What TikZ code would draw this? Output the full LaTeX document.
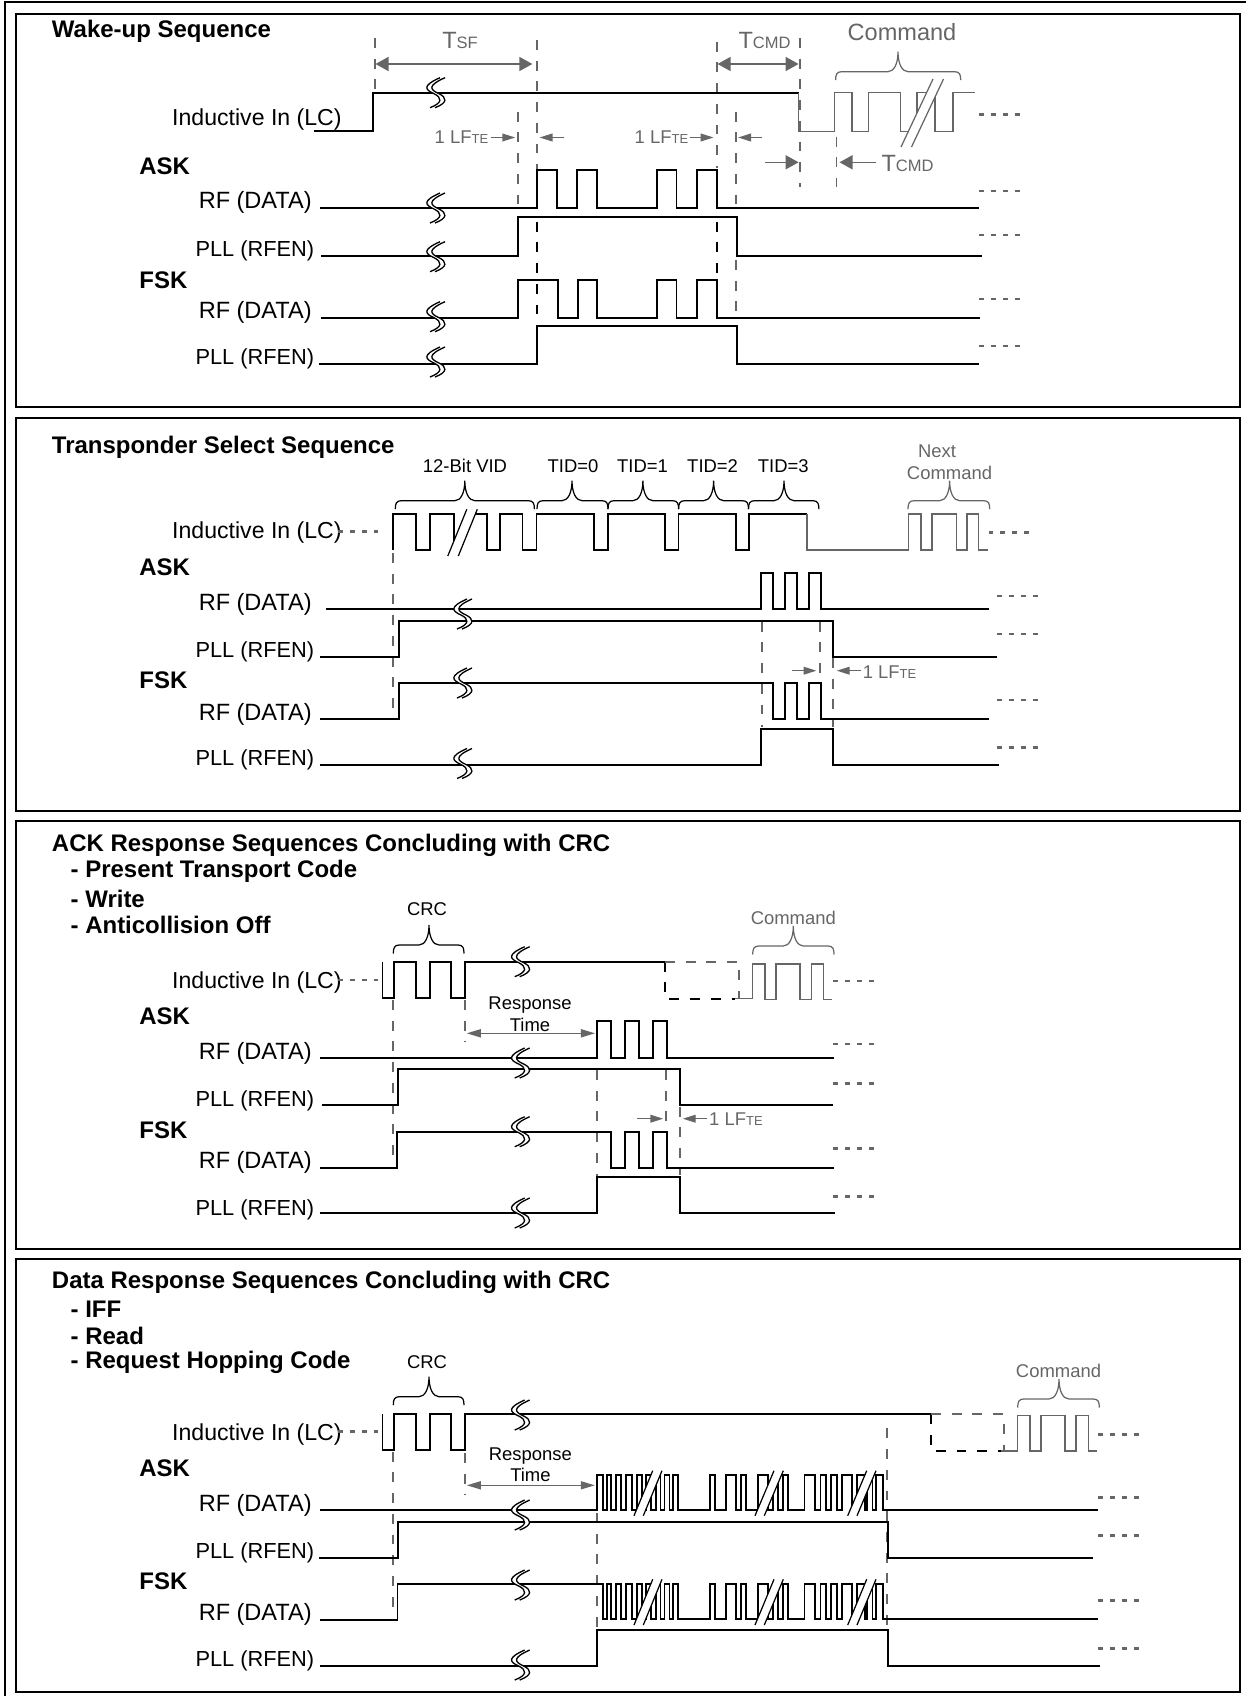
\documentclass[tikz,border=0pt]{standalone}
\usepackage{fontspec}
\usetikzlibrary{arrows.meta}
\setmainfont{Liberation Sans}

\definecolor{dimgrey}{HTML}{666666}

\newcommand{\bigfont}{\fontsize{13.4pt}{15pt}\selectfont}
\newcommand{\boldfont}{\fontsize{13.65pt}{15pt}\selectfont\bfseries}
\newcommand{\pllfont}{\fontsize{12.4pt}{15pt}\selectfont}
\newcommand{\smallfont}{\fontsize{10.5pt}{12pt}\selectfont}
\newcommand{\subbig}[1]{{\fontsize{9.4pt}{10pt}\selectfont #1}}
\newcommand{\subsmall}[1]{{\fontsize{7.4pt}{8pt}\selectfont #1}}

\tikzset{
    panelbox/.style={draw, line width=1.1pt},
    wave/.style={line width=1pt, line join=miter},
    greywave/.style={line width=0.85pt, dimgrey},
    guide/.style={line width=0.95pt, dimgrey, dash pattern=on 5.6pt off 6.2pt},
    guidek/.style={line width=1pt, black, dash pattern=on 5.6pt off 6.2pt},
    dotline/.style={line width=1.5pt, dimgrey, dash pattern=on 2.8pt off 4pt},
    dimboth/.style={line width=0.8pt, dimgrey, {Triangle[length=7.4pt,width=8pt]}-{Triangle[length=7.4pt,width=8pt]}},
    dimone/.style={line width=0.8pt, dimgrey, -{Triangle[length=7.4pt,width=8pt]}},
    smallone/.style={line width=0.8pt, dimgrey, -{Triangle[length=7.4pt,width=4.4pt]}},
    smallboth/.style={line width=0.8pt, dimgrey, {Triangle[length=8pt,width=4.6pt]}-{Triangle[length=8pt,width=4.6pt]}},
    headtxt/.style={anchor=west, inner sep=0pt, yshift=-1pt, font=\boldfont},
    sigtxt/.style={anchor=east, inner sep=0pt, yshift=-1.5pt, font=\bigfont},
    lctxt/.style={anchor=east, inner sep=0pt, yshift=-1.5pt, font=\fontsize{13.15pt}{15pt}\selectfont},
    plltxt/.style={anchor=east, inner sep=0pt, yshift=-1.5pt, font=\pllfont},
    modetxt/.style={anchor=west, inner sep=0pt, yshift=-0.5pt, font=\boldfont},
    smalltxt/.style={inner sep=0pt, font=\smallfont},
    greytxt/.style={inner sep=0pt, font=\bigfont, text=dimgrey},
    greysmall/.style={inner sep=0pt, font=\smallfont, text=dimgrey}
}

% Break mark across a line
\newcommand{\breakmark}[2]{%
    \begin{scope}[shift={(#1,#2)}]
        \fill[white] (3,-15) .. controls (-15,-7) and (-12,-3) .. (-3,1) .. controls (5,5) and (6,10) .. (-7,15)
            -- (-2,15) .. controls (11,10) and (10,5) .. (2,1) .. controls (-7,-3) and (-10,-7) .. (8,-15) -- cycle;
        \draw[line width=0.75pt] (3,-15) .. controls (-15,-7) and (-12,-3) .. (-3,1) .. controls (5,5) and (6,10) .. (-7,15);
        \draw[line width=0.75pt] (8,-15) .. controls (-10,-7) and (-7,-3) .. (2,1) .. controls (10,5) and (11,10) .. (-2,15);
    \end{scope}}

% Slanted cut: colour, bottom x, bottom y, top x, top y, gap
\newcommand{\slashmark}[6]{%
    \fill[white] (#2,#3) -- (#4,#5) -- (#4+#6,#5) -- (#2+#6,#3) -- cycle;
    \draw[line width=0.7pt, #1] (#2,#3) -- (#4,#5) (#2+#6,#3) -- (#4+#6,#5);}

% Brace: colour, left x, tip x, right x, y
\newcommand{\wavebrace}[5]{%
    \draw[line width=0.7pt, #1] (#2,#5+8.5) .. controls (#2,#5+3) and (#2+1,#5) .. (#2+6,#5)
        -- (#3-10,#5) .. controls (#3-4,#5) and (#3,#5-8) .. (#3,#5-20)
        .. controls (#3,#5-8) and (#3+4,#5) .. (#3+10,#5)
        -- (#4-6,#5) .. controls (#4-1,#5) and (#4,#5+3) .. (#4,#5+8.5);}

\newcommand{\dotrun}[2]{\draw[dotline] (#1,#2) -- ++(41,0);}

% Edges of the long data burst
\newcommand{\dataedges}{606.7/611.3,616.3/621.3,626.3/631.7,636.7/641.7,646/651,656/660.5,664.5/669.5,673/678.3,710/715.3,725.7/736,741/746,758/768,773/778,783/788,804.5/815,820.5/826,830.7/836.7,841.7/852,857/865,867/872.5,876/882.7}

\begin{document}
\begin{tikzpicture}[x=0.02cm, y=-0.02cm]
        \useasboundingbox (0,0) rectangle (1246,1696);

        % Frames
        \draw[line width=1.1pt] (5,1696) -- (5,2) -- (1246,2);
        \draw[panelbox] (16,14) rectangle (1240,406.7);
        \draw[panelbox] (16,418) rectangle (1240,810.7);
        \draw[panelbox] (16,821) rectangle (1240,1249);
        \draw[panelbox] (16,1259) rectangle (1240,1691.7);

        % Wake-up: nodes
        \node[headtxt] (head1) at (51.6,30) {Wake-up Sequence};
        \node[lctxt] (lc1) at (342,116.7) {Inductive In (LC)};
        \node[modetxt] (ask1) at (139,165.7) {ASK};
        \node[sigtxt] (rfa1) at (312,200) {RF (DATA)};
        \node[plltxt] (plla1) at (314.5,248.3) {PLL (RFEN)};
        \node[modetxt] (fsk1) at (139,279) {FSK};
        \node[sigtxt] (rff1) at (312,309.3) {RF (DATA)};
        \node[plltxt] (pllf1) at (314.5,356.7) {PLL (RFEN)};
        \node[greytxt] (tsf) at (460,40) {T\subbig{SF}};
        \node[greytxt] (tcmda) at (764.5,40) {T\subbig{CMD}};
        \node[greytxt] (cmd1) at (902,32) {Command};
        \node[greytxt] (tcmdb) at (907.5,163) {T\subbig{CMD}};
        \node[greysmall] (lfa) at (461.5,137) {1 LF\subsmall{TE}};
        \node[greysmall] (lfb) at (661.5,137) {1 LF\subsmall{TE}};

        % Wake-up: guides
        \draw[guide] (374.7,38) -- (374.7,92);
        \draw[guide] (536.8,40) -- (536.8,170);
        \draw[guidek] (536.8,221.7) -- (536.8,325);
        \draw[guide] (517.7,111.7) -- (517.7,206.7);
        \draw[guide] (716.8,41.7) -- (716.8,168);
        \draw[guidek] (716.8,221.7) -- (716.8,276);
        \draw[guide] (736.2,111.7) -- (736.2,205);
        \draw[guide] (736.2,260) -- (736.2,311.7);
        \draw[guide] (799.8,38) -- (799.8,186.7);
        \draw[guide] (836.4,136.7) -- (836.4,186.7);

        % Wake-up: waves
        \draw[wave] (314,130.7) -- (372.7,130.7) -- (372.7,92.7) -- (798.6,92.7);
        \draw[greywave] (798.6,92.7) -- (798.6,131.7) -- (834.4,131.7) -- (834.4,92.7) -- (852.2,92.7) -- (852.2,131.7) -- (868.5,131.7) -- (868.5,92.7) -- (900.3,92.7) -- (900.3,131.7) -- (917,131.7) -- (917,92.7) -- (934.9,92.7) -- (934.9,131.7) -- (952.8,131.7) -- (952.8,92.7) -- (974.6,92.7);
        \draw[wave] (320,207.7) -- (536.8,207.7) -- (536.8,170) -- (557,170) -- (557,207.7) -- (576.9,207.7) -- (576.9,170) -- (596.7,170) -- (596.7,207.7) -- (656.8,207.7) -- (656.8,170) -- (676.6,170) -- (676.6,207.7) -- (696.9,207.7) -- (696.9,170) -- (717.2,170) -- (717.2,207.7) -- (978.6,207.7);
        \draw[wave] (321,255.7) -- (517.7,255.7) -- (517.7,216.7) -- (737,216.7) -- (737,255.7) -- (981.8,255.7);
        \draw[wave] (321,317.7) -- (517.7,317.7) -- (517.7,280) -- (558.2,280) -- (558.2,317.7) -- (578,317.7) -- (578,280) -- (596.7,280) -- (596.7,317.7) -- (656.8,317.7) -- (656.8,280) -- (676.6,280) -- (676.6,317.7) -- (696.9,317.7) -- (696.9,280) -- (717.2,280) -- (717.2,317.7) -- (979.8,317.7);
        \draw[wave] (319,363.7) -- (536.8,363.7) -- (536.8,325.7) -- (737,325.7) -- (737,363.7) -- (978.6,363.7);
        \breakmark{437}{92.7}
        \breakmark{437}{208}
        \breakmark{437}{256.7}
        \breakmark{437}{316.7}
        \breakmark{437}{362}
        \slashmark{dimgrey}{901}{147}{933}{79}{10.5}
        \wavebrace{dimgrey}{835.6}{898}{960.7}{71.7}
        \dotrun{979}{114.3}
        \dotrun{979}{191}
        \dotrun{979}{235}
        \dotrun{979}{299}
        \dotrun{979}{346}

        % Wake-up: arrows
        \coordinate (tsfl) at (375.5,64);
        \coordinate (tsfr) at (532.4,64);
        \coordinate (cmdl) at (717.6,64);
        \coordinate (cmdr) at (798.6,64);
        \coordinate (lfa1) at (490.7,137.5);
        \coordinate (lfa2) at (515.3,137.5);
        \coordinate (lfa3) at (564,137.5);
        \coordinate (lfa4) at (539.5,137.5);
        \coordinate (lfb1) at (689.7,137.5);
        \coordinate (lfb2) at (713.6,137.5);
        \coordinate (lfb3) at (762,137.5);
        \coordinate (lfb4) at (738,137.5);
        \coordinate (cmdb1) at (765,162.3);
        \coordinate (cmdb2) at (798.6,162.3);
        \coordinate (cmdb3) at (876,162.3);
        \coordinate (cmdb4) at (839.5,162.3);
        \draw[dimboth] (tsfl) -- (tsfr);
        \draw[dimboth] (cmdl) -- (cmdr);
        \draw[smallone] (lfa1) -- (lfa2);
        \draw[smallone] (lfa3) -- (lfa4);
        \draw[smallone] (lfb1) -- (lfb2);
        \draw[smallone] (lfb3) -- (lfb4);
        \draw[dimone] (cmdb1) -- (cmdb2);
        \draw[dimone] (cmdb3) -- (cmdb4);

        % Select: nodes
        \node[headtxt] (head2) at (51.6,446) {Transponder Select Sequence};
        \node[lctxt] (lc2) at (342,530) {Inductive In (LC)};
        \node[modetxt] (ask2) at (139,566.7) {ASK};
        \node[sigtxt] (rfa2) at (312,601.7) {RF (DATA)};
        \node[plltxt] (plla2) at (314.5,649.3) {PLL (RFEN)};
        \node[modetxt] (fsk2) at (139,679.3) {FSK};
        \node[sigtxt] (rff2) at (312,711.7) {RF (DATA)};
        \node[plltxt] (pllf2) at (314.5,757.7) {PLL (RFEN)};
        \node[smalltxt] (vid) at (465,465.7) {12-Bit VID};
        \node[smalltxt] (tid0) at (573,465.7) {TID=0};
        \node[smalltxt] (tid1) at (642.5,465.7) {TID=1};
        \node[smalltxt] (tid2) at (712.6,465.7) {TID=2};
        \node[smalltxt] (tid3) at (783.3,465.7) {TID=3};
        \node[greysmall] (next) at (937,451.7) {Next};
        \node[greysmall] (cmd2) at (949.5,472.7) {Command};
        \node[greysmall] (lfc) at (889.5,672) {1 LF\subsmall{TE}};

        % Select: guides
        \draw[guide] (393.3,553) -- (393.3,708);
        \draw[guide] (761.7,621.7) -- (761.7,726.7);
        \draw[guide] (819.7,621.7) -- (819.7,673);
        \draw[guide] (832.8,658) -- (832.8,726.7);

        % Select: waves
        \draw[wave] (393.3,550) -- (393.3,514) -- (416,514) -- (416,550) -- (430.3,550) -- (430.3,514) -- (453.7,514) -- (453.7,541);
        \draw[wave] (470,514) -- (486.7,514) -- (486.7,550) -- (499.8,550) -- (499.8,514) -- (522.5,514) -- (522.5,550) -- (536.4,550) -- (536.4,514) -- (594,514) -- (594,550) -- (608,550) -- (608,514) -- (664.7,514) -- (664.7,550) -- (678.6,550) -- (678.6,514) -- (736,514) -- (736,550) -- (749.3,550) -- (749.3,514) -- (807,514);
        \draw[greywave] (807,514) -- (807,550) -- (908.3,550) -- (908.3,514) -- (921,514) -- (921,550) -- (932,550) -- (932,514) -- (956.7,514) -- (956.7,550) -- (967,550) -- (967,514) -- (978.6,514) -- (978.6,550) -- (987.7,550);
        \draw[wave] (325.8,609) -- (760.9,609) -- (760.9,572.7) -- (773.2,572.7) -- (773.2,609) -- (785,609) -- (785,572.7) -- (797,572.7) -- (797,609) -- (809,609) -- (809,572.7) -- (820.9,572.7) -- (820.9,609) -- (988.5,609);
        \draw[wave] (319.8,656.7) -- (399.3,656.7) -- (399.3,620.7) -- (832.8,620.7) -- (832.8,656.7) -- (996.5,656.7);
        \draw[wave] (319.8,719) -- (399.3,719) -- (399.3,682.7) -- (773.2,682.7) -- (773.2,719) -- (785,719) -- (785,682.7) -- (797,682.7) -- (797,719) -- (809,719) -- (809,682.7) -- (820.9,682.7) -- (820.9,719) -- (988.5,719);
        \draw[wave] (319.8,764.7) -- (760.9,764.7) -- (760.9,729) -- (832.8,729) -- (832.8,764.7) -- (998.5,764.7);
        \breakmark{464}{614}
        \breakmark{464}{683}
        \breakmark{464}{763.5}
        \slashmark{black}{447.8}{556}{466.8}{509.3}{10.5}
        \wavebrace{black}{395.3}{464.8}{534.4}{500.7}
        \wavebrace{black}{537}{572}{608}{500.7}
        \wavebrace{black}{608}{642.9}{678.6}{500.7}
        \wavebrace{black}{678.6}{713.6}{748.5}{500.7}
        \wavebrace{black}{748.5}{784}{818.9}{500.7}
        \wavebrace{dimgrey}{908}{949.6}{989.7}{500.7}
        \dotrun{337.7}{531.7}
        \dotrun{988.5}{532.3}
        \dotrun{997}{596}
        \dotrun{997}{634}
        \dotrun{997}{700}
        \dotrun{997}{747.3}

        % Select: arrows
        \coordinate (lfc1) at (791.9,670.7);
        \coordinate (lfc2) at (816.5,670.7);
        \coordinate (lfc3) at (861.4,670.7);
        \coordinate (lfc4) at (836.7,670.7);
        \draw[smallone] (lfc1) -- (lfc2);
        \draw[smallone] (lfc3) -- (lfc4);

        % ACK: nodes
        \node[headtxt] (head3) at (51.6,843.3) {ACK Response Sequences Concluding with CRC};
        \node[headtxt] (ptc) at (70.3,870) {- Present Transport Code};
        \node[headtxt] (wrt) at (70.3,896.7) {- Write};
        \node[headtxt] (aco) at (70.3,923.3) {- Anticollision Off};
        \node[lctxt] (lc3) at (342,980) {Inductive In (LC)};
        \node[modetxt] (ask3) at (139,1015.7) {ASK};
        \node[sigtxt] (rfa3) at (312,1050.7) {RF (DATA)};
        \node[plltxt] (plla3) at (314.5,1098.3) {PLL (RFEN)};
        \node[modetxt] (fsk3) at (139,1129) {FSK};
        \node[sigtxt] (rff3) at (312,1160) {RF (DATA)};
        \node[plltxt] (pllf3) at (314.5,1207.3) {PLL (RFEN)};
        \node[smalltxt] (crc3) at (427,909) {CRC};
        \node[greysmall] (cmd3) at (793.3,918.3) {Command};
        \node[smalltxt] (resp3) at (530,1005.5) {Response};
        \node[smalltxt] (time3) at (530,1025) {Time};
        \node[greysmall] (lfd) at (736,1119) {1 LF\subsmall{TE}};

        % ACK: guides
        \draw[guide] (393.3,1000) -- (393.3,1158);
        \draw[guide] (464.8,1000) -- (464.8,1041.7);
        \draw[guide] (597.3,1070) -- (597.3,1176.7);
        \draw[guide] (666,1070) -- (666,1131.7);
        \draw[guide] (680,1106.7) -- (680,1175);

        % ACK: waves
        \draw[wave] (382.6,961.7) -- (382.6,997.7) -- (394,997.7) -- (394,961.7) -- (416,961.7) -- (416,997.7) -- (430.3,997.7) -- (430.3,961.7) -- (451,961.7) -- (451,997.7) -- (464.8,997.7) -- (464.8,961.7) -- (665,961.7);
        \draw[guidek] (665,961.7) -- (665,998.7) -- (735,998.7);
        \draw[guide] (665,961.7) -- (739.3,961.7) -- (739.3,998.7);
        \draw[greywave] (735,998.7) -- (752.7,998.7) -- (752.7,964) -- (765,964) -- (765,999.3) -- (776,999.3) -- (776,964) -- (800,964) -- (800,999.3) -- (811.7,999.3) -- (811.7,964) -- (823.3,964) -- (823.3,999.3) -- (831.7,999.3);
        \draw[wave] (319.8,1057.7) -- (597.3,1057.7) -- (597.3,1021) -- (611,1021) -- (611,1057.7) -- (625,1057.7) -- (625,1021) -- (639,1021) -- (639,1057.7) -- (653.3,1057.7) -- (653.3,1021) -- (666.7,1021) -- (666.7,1057.7) -- (834,1057.7);
        \draw[wave] (321.8,1105) -- (398,1105) -- (398,1069) -- (680,1069) -- (680,1105) -- (832.7,1105);
        \draw[wave] (319.8,1167.7) -- (397.3,1167.7) -- (397.3,1131.7) -- (611,1131.7) -- (611,1167.7) -- (625,1167.7) -- (625,1131.7) -- (639,1131.7) -- (639,1167.7) -- (653.3,1167.7) -- (653.3,1131.7) -- (666.7,1131.7) -- (666.7,1167.7) -- (834,1167.7);
        \draw[wave] (319.8,1213.3) -- (597.3,1213.3) -- (597.3,1176.7) -- (680,1176.7) -- (680,1213.3) -- (835,1213.3);
        \breakmark{521.7}{961.7}
        \breakmark{521.7}{1063}
        \breakmark{521.7}{1131.7}
        \breakmark{521.7}{1213}
        \wavebrace{black}{393.3}{429}{464}{945}
        \wavebrace{dimgrey}{752.7}{793.3}{834}{946}
        \dotrun{337.7}{980}
        \dotrun{833.3}{981}
        \dotrun{833.3}{1044}
        \dotrun{833.3}{1083.3}
        \dotrun{833.3}{1148.3}
        \dotrun{833.3}{1196.3}

        % ACK: arrows
        \coordinate (rta) at (466.7,1033.3);
        \coordinate (rtb) at (595,1033.3);
        \coordinate (lfd1) at (636.7,1118.7);
        \coordinate (lfd2) at (663.3,1118.7);
        \coordinate (lfd3) at (706.7,1118.7);
        \coordinate (lfd4) at (682.7,1118.7);
        \draw[smallboth] (rta) -- (rtb);
        \draw[smallone] (lfd1) -- (lfd2);
        \draw[smallone] (lfd3) -- (lfd4);

        % Data: nodes
        \node[headtxt] (head4) at (51.6,1281) {Data Response Sequences Concluding with CRC};
        \node[headtxt] (iff) at (70.3,1307.3) {- IFF};
        \node[headtxt] (rd) at (70.3,1334.3) {- Read};
        \node[headtxt] (rhc) at (70.3,1361) {- Request Hopping Code};
        \node[lctxt] (lc4) at (342,1431.7) {Inductive In (LC)};
        \node[modetxt] (ask4) at (139,1467.7) {ASK};
        \node[sigtxt] (rfa4) at (312,1502.3) {RF (DATA)};
        \node[plltxt] (plla4) at (314.5,1550.7) {PLL (RFEN)};
        \node[modetxt] (fsk4) at (139,1580.7) {FSK};
        \node[sigtxt] (rff4) at (312,1611.7) {RF (DATA)};
        \node[plltxt] (pllf4) at (314.5,1658.3) {PLL (RFEN)};
        \node[smalltxt] (crc4) at (427,1361.7) {CRC};
        \node[greysmall] (cmd4) at (1058.5,1370.7) {Command};
        \node[smalltxt] (resp4) at (530.4,1456.5) {Response};
        \node[smalltxt] (time4) at (530.4,1475) {Time};

        % Data: guides
        \draw[guide] (393.3,1451.7) -- (393.3,1616.7);
        \draw[guide] (464.8,1453) -- (464.8,1495);
        \draw[guide] (596.7,1513) -- (596.7,1626.7);
        \draw[guide] (887,1428.3) -- (887,1630);

        % Data: waves
        \draw[wave] (382.6,1414) -- (382.6,1450) -- (394,1450) -- (394,1414) -- (416,1414) -- (416,1450) -- (430.3,1450) -- (430.3,1414) -- (451,1414) -- (451,1450) -- (464.8,1450) -- (464.8,1414) -- (931,1414);
        \draw[guidek] (931,1414) -- (931,1450.7) -- (1000.7,1450.7);
        \draw[guide] (931,1414) -- (1004,1414) -- (1004,1450.7);
        \draw[greywave] (1000.7,1451) -- (1017.7,1451) -- (1017.7,1415.7) -- (1030,1415.7) -- (1030,1451) -- (1041,1451) -- (1041,1415.7) -- (1065,1415.7) -- (1065,1451) -- (1076,1451) -- (1076,1415.7) -- (1088.3,1415.7) -- (1088.3,1451) -- (1096.7,1451);
        \draw[wave] (319.8,1509.7) -- (597,1509.7) -- (597,1475) -- (602.7,1475) -- (602.7,1509.7) \foreach \a/\b in \dataedges { -- (\a,1509.7) -- (\a,1475) -- (\b,1475) -- (\b,1509.7) } -- (1098,1509.7);
        \draw[wave] (319,1558) -- (398,1558) -- (398,1522) -- (888,1522) -- (888,1558) -- (1093.3,1558);
        \draw[wave] (319.8,1620) -- (397.6,1620) -- (397.6,1583.7) -- (602.7,1583.7) -- (602.7,1618.7) \foreach \a/\b in \dataedges { -- (\a,1618.7) -- (\a,1583.7) -- (\b,1583.7) -- (\b,1618.7) } -- (1098,1618.7);
        \draw[wave] (319.8,1665.7) -- (596.7,1665.7) -- (596.7,1630) -- (888,1630) -- (888,1665.7) -- (1100,1665.7);
        \breakmark{521.7}{1415}
        \breakmark{521.7}{1515}
        \breakmark{521.7}{1585}
        \breakmark{521.7}{1665}
        \slashmark{black}{634}{1515.7}{652.7}{1470.7}{9.3}
        \slashmark{black}{755}{1515.7}{774}{1470.7}{9.3}
        \slashmark{black}{847.7}{1515.7}{866.7}{1470.7}{9.3}
        \slashmark{black}{634}{1625}{652.7}{1579.3}{9.3}
        \slashmark{black}{755}{1625}{774}{1579.3}{9.3}
        \slashmark{black}{847.7}{1625}{866.7}{1579.3}{9.3}
        \wavebrace{black}{393.3}{429}{464}{1396.7}
        \wavebrace{dimgrey}{1017.7}{1059}{1099.3}{1399}
        \dotrun{337.7}{1431.7}
        \dotrun{1098}{1434.3}
        \dotrun{1098}{1497.3}
        \dotrun{1098}{1535.3}
        \dotrun{1098}{1600.3}
        \dotrun{1098}{1648.3}

        % Data: arrows
        \coordinate (rtc) at (466.8,1485.3);
        \coordinate (rtd) at (594.8,1485.3);
        \draw[smallboth] (rtc) -- (rtd);
    \end{tikzpicture}
\end{document}
